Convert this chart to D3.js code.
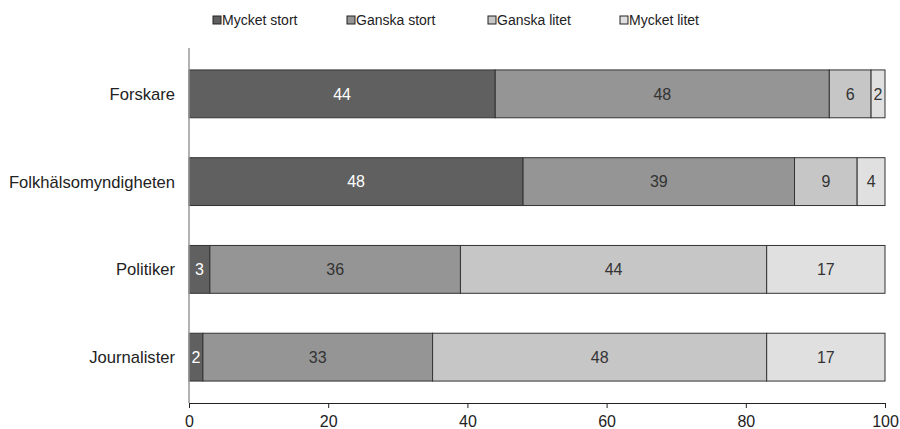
<!DOCTYPE html>
<html>
<head>
<meta charset="utf-8">
<script src="https://cdn.jsdelivr.net/npm/d3@7"></script>
<style>
  body { margin: 0; background: #fff; }
  text { font-family: "Liberation Sans", Arial, sans-serif; }
</style>
</head>
<body>
<div id="chart"></div>
<script>
var categories = ["Forskare", "Folkhälsomyndigheten", "Politiker", "Journalister"];
var seriesNames = ["Mycket stort", "Ganska stort", "Ganska litet", "Mycket litet"];
var mycketStort = [44, 48, 3, 2];
var ganskaStort = [48, 39, 36, 33];
var ganskaLitet = [6, 9, 44, 48];
var mycketLitet = [2, 4, 17, 17];
var xTicks = [0, 20, 40, 60, 80, 100];

var colors = ["#606060", "#959595", "#c6c6c6", "#e0e0e0"];
var labelColors = ["#ffffff", "#333333", "#333333", "#333333"];

var w = 900, h = 429;
var svg = d3.select("#chart").append("svg")
  .attr("width", w)
  .attr("height", h);

var x = d3.scaleLinear().domain([0, 100]).range([189, 885]);
var y = d3.scaleBand().domain(categories).range([48, 403]).paddingInner(0.455).paddingOuter(0.25);

var rows = categories.map(function(c, i) {
  return { cat: c, v: [mycketStort[i], ganskaStort[i], ganskaLitet[i], mycketLitet[i]] };
});

// segments
rows.forEach(function(r) {
  var start = 0;
  r.v.forEach(function(val, k) {
    var g = svg.append("g");
    g.append("rect")
      .attr("x", x(start))
      .attr("y", y(r.cat))
      .attr("width", x(start + val) - x(start))
      .attr("height", y.bandwidth())
      .attr("fill", colors[k])
      .attr("stroke", "#333")
      .attr("stroke-width", 1);
    g.append("text")
      .attr("x", x(start + val / 2))
      .attr("y", y(r.cat) + y.bandwidth() / 2)
      .attr("dy", "0.36em")
      .attr("text-anchor", "middle")
      .attr("font-size", 16)
      .attr("fill", labelColors[k])
      .text(val);
    start += val;
  });
});

// y axis line
svg.append("line")
  .attr("x1", 189).attr("x2", 189)
  .attr("y1", 48).attr("y2", 403)
  .attr("stroke", "#999").attr("stroke-width", 1.5);

svg.selectAll(".ylab")
  .data(categories)
  .enter()
  .append("text")
  .attr("x", 175)
  .attr("y", function(d) { return y(d) + y.bandwidth() / 2; })
  .attr("dy", "0.36em")
  .attr("text-anchor", "end")
  .attr("font-size", 16.6)
  .attr("fill", "#222")
  .text(function(d) { return d; });

// x axis
var xAxis = svg.append("g")
  .attr("transform", "translate(0,403)")
  .call(d3.axisBottom(x).tickValues(xTicks).tickSize(5).tickSizeOuter(0));
xAxis.select(".domain").attr("stroke", "#222");
xAxis.selectAll(".tick line").attr("stroke", "#222");
xAxis.selectAll(".tick text")
  .attr("font-size", 16)
  .attr("fill", "#222")
  .attr("font-family", "Liberation Sans, Arial, sans-serif")
  .attr("y", 18)
  .attr("dy", "0.36em");

// legend
var legendX = [213, 347, 488, 620];
var legend = svg.selectAll(".leg")
  .data(seriesNames)
  .enter()
  .append("g")
  .attr("transform", function(d, i) { return "translate(" + legendX[i] + ",20)"; });
legend.append("rect")
  .attr("x", 0).attr("y", -4)
  .attr("width", 8).attr("height", 8)
  .attr("fill", function(d, i) { return colors[i]; })
  .attr("stroke", "#222");
legend.append("text")
  .attr("x", 9)
  .attr("dy", "0.35em")
  .attr("font-size", 14)
  .attr("fill", "#222")
  .text(function(d) { return d; });
</script>
</body>
</html>
